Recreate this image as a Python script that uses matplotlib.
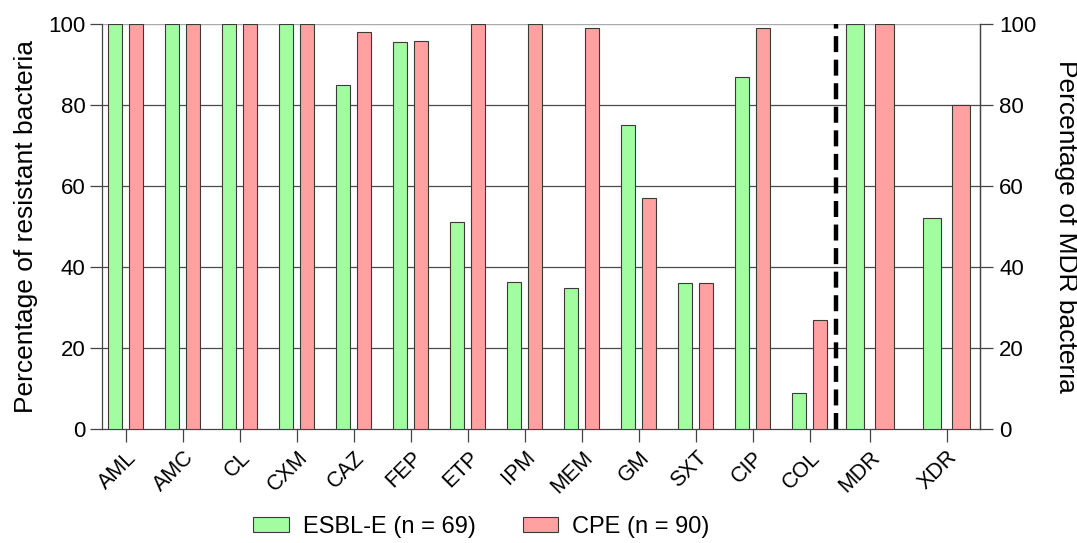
import matplotlib
matplotlib.use("Agg")
import matplotlib.pyplot as plt
import numpy as np
from matplotlib.patches import Patch

plt.rcParams['font.family'] = ['Liberation Sans', 'DejaVu Sans']

antibiotics = ["AML", "AMC", "CL", "CXM", "CAZ", "FEP", "ETP", "IPM", "MEM", "GM", "SXT", "CIP", "COL"]
esbl_res = [100, 100, 100, 100, 85, 95.6, 51, 36.2, 34.7, 75, 36, 86.8, 9]
cpe_res = [100, 100, 100, 100, 98, 95.8, 100, 100, 98.9, 57, 36, 98.9, 27]

mdr_cats = ["MDR", "XDR"]
esbl_mdr = [100, 52]
cpe_mdr = [100, 80]

series_labels = ["ESBL-E (n = 69)", "CPE (n = 90)"]
green = "#A2FDA0"
red = "#FFA1A0"
edge = "#3a3a3a"

fig = plt.figure(figsize=(10.77, 5.43), dpi=100)
ax = fig.add_axes([0.0947, 0.21, 0.815, 0.746])

x1 = np.arange(len(antibiotics))
x2 = np.array([13.05, 14.4])
w1, o1 = 0.245, 0.184
w2, o2 = 0.325, 0.255

ax.bar(x1 - o1, esbl_res, w1, color=green, edgecolor=edge, linewidth=0.8, zorder=3)
ax.bar(x1 + o1, cpe_res, w1, color=red, edgecolor=edge, linewidth=0.8, zorder=3)
ax.bar(x2 - o2, esbl_mdr, w2, color=green, edgecolor=edge, linewidth=0.8, zorder=3)
ax.bar(x2 + o2, cpe_mdr, w2, color=red, edgecolor=edge, linewidth=0.8, zorder=3)

for v in [20, 40, 60, 80]:
    ax.axhline(v, color="#4a4a4a", lw=0.9, zorder=1)
ax.axhline(100, color="#aaaaaa", lw=1.0, zorder=1)

ax.plot([12.46, 12.46], [0, 100], color="black", lw=3.2, linestyle=(0, (3.6, 1.7)), zorder=4)

ax.set_xlim(-0.42, 14.98)
ax.set_ylim(0, 100)
ax.set_xticks(list(x1) + list(x2))
ax.set_xticklabels(antibiotics + mdr_cats, rotation=45, ha="right", va="top",
                   rotation_mode="anchor", fontsize=15.5)
ax.set_yticks([0, 20, 40, 60, 80, 100])
ax.tick_params(axis="y", labelsize=16, length=9, width=0.9, color="#444444", pad=3)
ax.tick_params(axis="x", length=9, width=0.9, color="#444444", pad=4)

ax.spines["top"].set_visible(False)
for s in ["left", "right", "bottom"]:
    ax.spines[s].set_color("#444444")
    ax.spines[s].set_linewidth(0.9)

ax.set_ylabel("Percentage of resistant bacteria", fontsize=19, labelpad=7)

ax2 = ax.twinx()
ax2.set_ylim(0, 100)
ax2.set_yticks([0, 20, 40, 60, 80, 100])
ax2.tick_params(axis="y", labelsize=16, length=9, width=0.9, color="#444444", pad=5)
for s in ["top", "left", "bottom"]:
    ax2.spines[s].set_visible(False)
ax2.spines["right"].set_color("#444444")
ax2.spines["right"].set_linewidth(0.9)
ax2.set_ylabel("Percentage of MDR bacteria", fontsize=19, rotation=270, labelpad=30)

handles = [Patch(facecolor=green, edgecolor=edge, linewidth=0.8),
           Patch(facecolor=red, edgecolor=edge, linewidth=0.8)]
fig.legend(handles, series_labels, loc="center", bbox_to_anchor=(0.447, 0.03), ncol=2,
           frameon=False, fontsize=17, handlelength=1.5, handleheight=0.65,
           columnspacing=2.0, handletextpad=0.6)

fig.savefig("out.png", dpi=100)
